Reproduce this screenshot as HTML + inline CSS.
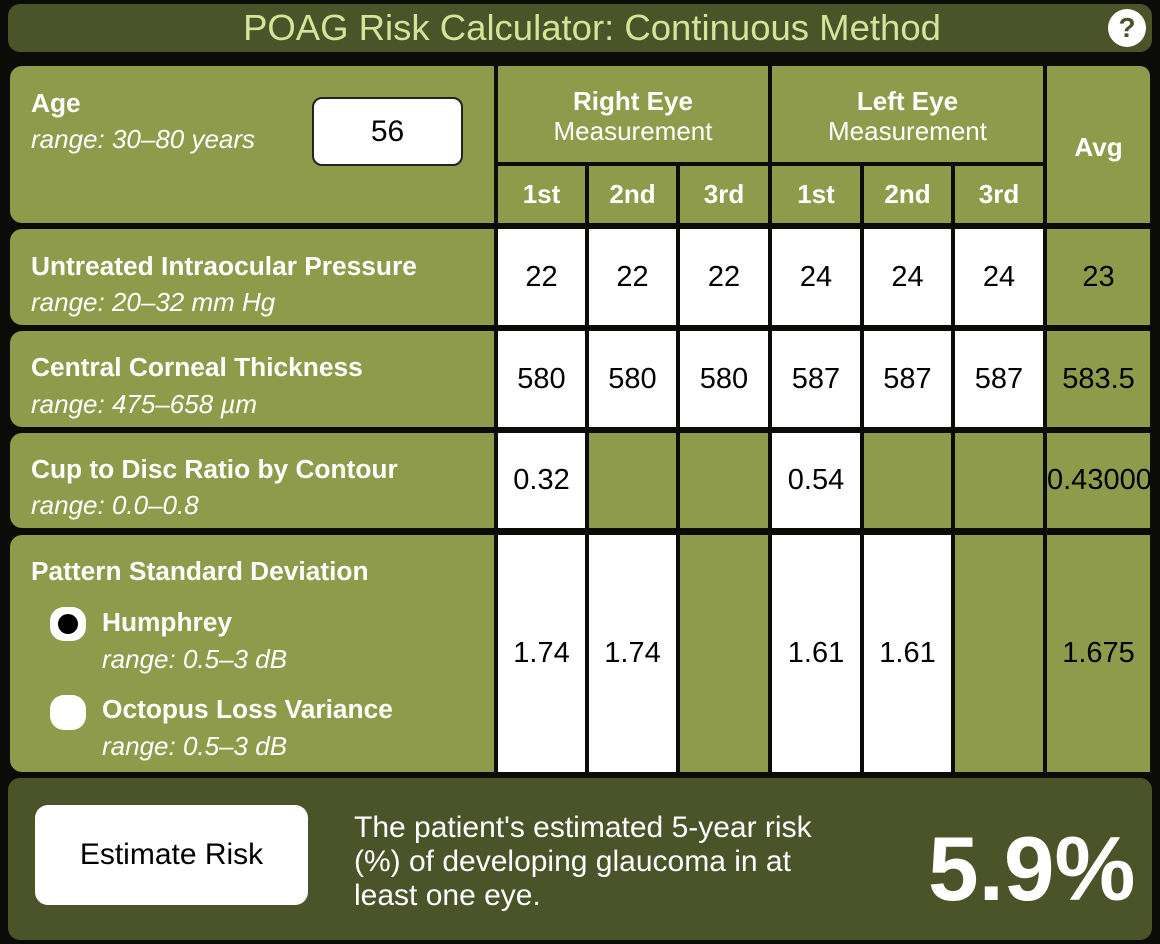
<!DOCTYPE html>
<html><head><meta charset="utf-8"><style>
body{margin:0;width:1160px;height:944px;background:#0b0b08;position:relative;overflow:hidden;font-family:"Liberation Sans",Arial,sans-serif}
div{position:absolute;box-sizing:border-box}
.g{background:#8d9b4a}
.w{background:#fff}
.c{display:flex;align-items:center;justify-content:center;font-size:29px;color:#000}
.h{color:#fff;font-weight:bold;font-size:26px;text-align:center}
.lb{color:#fff;font-weight:bold;font-size:26.3px;left:31px;white-space:nowrap}
.it{color:#fff;font-style:italic;font-size:26px;left:31px;white-space:nowrap}
</style></head><body>
<div style="left:8px;top:4px;width:1144px;height:48px;background:#4b5329;border-radius:12px"></div>
<div style="left:0;top:7px;width:1184px;text-align:center;font-size:36.5px;color:#d6e39a">POAG Risk Calculator: Continuous Method</div>
<div style="left:1108px;top:9px;width:38px;height:38px;border-radius:50%;background:#fff;color:#4b5329;font-weight:bold;font-size:28px;text-align:center;line-height:38px">?</div>

<div class="g" style="left:10px;top:66px;width:484px;height:157px;border-radius:12px 0 0 12px"></div>
<div class="g" style="left:10px;top:229px;width:484px;height:96px;border-radius:12px 0 0 12px"></div>
<div class="g" style="left:10px;top:331px;width:484px;height:96px;border-radius:12px 0 0 12px"></div>
<div class="g" style="left:10px;top:433px;width:484px;height:95px;border-radius:12px 0 0 12px"></div>
<div class="g" style="left:10px;top:535px;width:484px;height:237px;border-radius:12px 0 0 12px"></div>

<div class="lb" style="top:88px">Age</div>
<div class="it" style="top:124px">range: 30–80 years</div>
<div class="c" style="left:312px;top:97px;width:151px;height:69px;background:#fff;border:2px solid #222;border-radius:10px;font-size:30px">56</div>

<div class="lb" style="top:251px">Untreated Intraocular Pressure</div>
<div class="it" style="top:287px">range: 20–32 mm Hg</div>
<div class="lb" style="top:352px">Central Corneal Thickness</div>
<div class="it" style="top:389px">range: 475–658 µm</div>
<div class="lb" style="top:454px">Cup to Disc Ratio by Contour</div>
<div class="it" style="top:490px">range: 0.0–0.8</div>
<div class="lb" style="top:556px">Pattern Standard Deviation</div>
<div style="left:50px;top:607px;width:36px;height:34px;border-radius:14px;background:#fff"></div>
<div style="left:58px;top:614px;width:20px;height:20px;border-radius:50%;background:#000"></div>
<div class="lb" style="left:102px;top:607px">Humphrey</div>
<div class="it" style="left:102px;top:644px">range: 0.5–3 dB</div>
<div style="left:50px;top:695px;width:36px;height:35px;border-radius:14px;background:#fff"></div>
<div class="lb" style="left:102px;top:694px">Octopus Loss Variance</div>
<div class="it" style="left:102px;top:731px">range: 0.5–3 dB</div>

<div class="g h" style="left:498px;top:66px;width:270px;height:96px;padding-top:20px;line-height:30px">Right Eye<br><span style="font-weight:normal;font-size:26px">Measurement</span></div>
<div class="g h" style="left:772px;top:66px;width:271px;height:96px;padding-top:20px;line-height:30px">Left Eye<br><span style="font-weight:normal;font-size:26px">Measurement</span></div>
<div class="g h" style="left:1047px;top:66px;width:103px;height:157px;border-radius:0 10px 0 0;padding-top:66px">Avg</div>
<div class="g h c" style="left:498px;top:166px;width:87px;height:57px;color:#fff;font-size:26px">1st</div>
<div class="g h c" style="left:589px;top:166px;width:87px;height:57px;color:#fff;font-size:26px">2nd</div>
<div class="g h c" style="left:680px;top:166px;width:88px;height:57px;color:#fff;font-size:26px">3rd</div>
<div class="g h c" style="left:772px;top:166px;width:88px;height:57px;color:#fff;font-size:26px">1st</div>
<div class="g h c" style="left:864px;top:166px;width:87px;height:57px;color:#fff;font-size:26px">2nd</div>
<div class="g h c" style="left:955px;top:166px;width:88px;height:57px;color:#fff;font-size:26px">3rd</div>

<div class="w c" style="left:498px;top:229px;width:87px;height:96px">22</div>
<div class="w c" style="left:589px;top:229px;width:87px;height:96px">22</div>
<div class="w c" style="left:680px;top:229px;width:88px;height:96px">22</div>
<div class="w c" style="left:772px;top:229px;width:88px;height:96px">24</div>
<div class="w c" style="left:864px;top:229px;width:87px;height:96px">24</div>
<div class="w c" style="left:955px;top:229px;width:88px;height:96px">24</div>
<div class="g c" style="left:1047px;top:229px;width:103px;height:96px">23</div>
<div class="w c" style="left:498px;top:331px;width:87px;height:96px">580</div>
<div class="w c" style="left:589px;top:331px;width:87px;height:96px">580</div>
<div class="w c" style="left:680px;top:331px;width:88px;height:96px">580</div>
<div class="w c" style="left:772px;top:331px;width:88px;height:96px">587</div>
<div class="w c" style="left:864px;top:331px;width:87px;height:96px">587</div>
<div class="w c" style="left:955px;top:331px;width:88px;height:96px">587</div>
<div class="g c" style="left:1047px;top:331px;width:103px;height:96px">583.5</div>
<div class="w c" style="left:498px;top:433px;width:87px;height:95px">0.32</div>
<div class="g" style="left:589px;top:433px;width:87px;height:95px"></div>
<div class="g" style="left:680px;top:433px;width:88px;height:95px"></div>
<div class="w c" style="left:772px;top:433px;width:88px;height:95px">0.54</div>
<div class="g" style="left:864px;top:433px;width:87px;height:95px"></div>
<div class="g" style="left:955px;top:433px;width:88px;height:95px"></div>
<div class="g c" style="left:1047px;top:433px;width:103px;height:95px;justify-content:flex-start;overflow:hidden;white-space:nowrap">0.43000</div>
<div class="w c" style="left:498px;top:535px;width:87px;height:237px">1.74</div>
<div class="w c" style="left:589px;top:535px;width:87px;height:237px">1.74</div>
<div class="g" style="left:680px;top:535px;width:88px;height:237px"></div>
<div class="w c" style="left:772px;top:535px;width:88px;height:237px">1.61</div>
<div class="w c" style="left:864px;top:535px;width:87px;height:237px">1.61</div>
<div class="g" style="left:955px;top:535px;width:88px;height:237px"></div>
<div class="g c" style="left:1047px;top:535px;width:103px;height:237px">1.675</div>

<div style="left:8px;top:778px;width:1144px;height:162px;background:#4b5329;border-radius:12px"></div>
<div class="c" style="left:35px;top:805px;width:273px;height:100px;background:#fff;border-radius:13px;font-size:30px">Estimate Risk</div>
<div style="left:354px;top:811px;width:560px;color:#fff;font-size:30px;line-height:34px;white-space:nowrap">The patient's estimated 5-year risk<br>(%) of developing glaucoma in at<br>least one eye.</div>
<div style="left:928px;top:815px;color:#fff;font-weight:bold;font-size:91px;line-height:110px">5.9%</div>
</body></html>
